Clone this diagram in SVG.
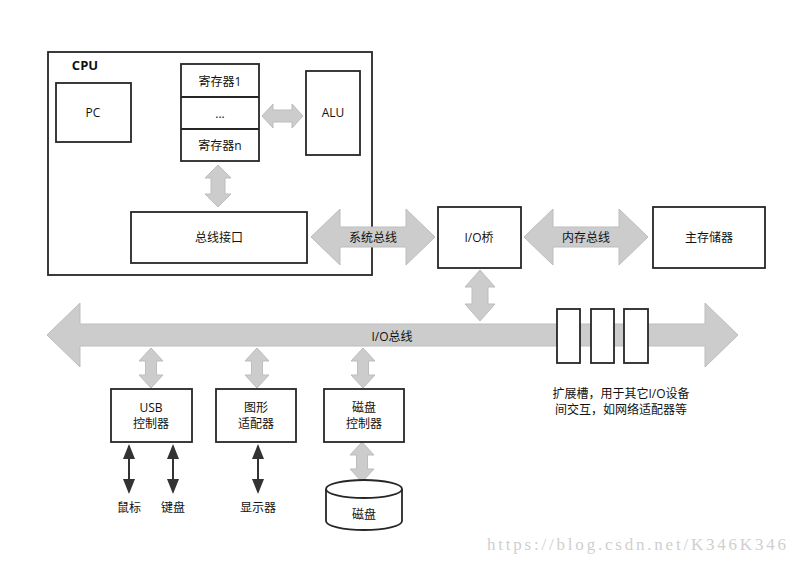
<svg xmlns="http://www.w3.org/2000/svg" width="797" height="565" viewBox="0 0 797 565">
<defs>
<style>
.box{fill:#fff;stroke:#262626;stroke-width:1.8}
.bus{fill:#cccccc;stroke:#bdbdbd;stroke-width:1}
.t{font-family:"Open Sans","Noto Sans CJK SC",sans-serif;font-size:12px;fill:#111;text-anchor:middle;dominant-baseline:central}
.blk{stroke:#333;stroke-width:2;fill:none}
</style>
<marker id="ah" markerUnits="userSpaceOnUse" markerWidth="15" markerHeight="12" viewBox="0 0 15 12" refX="13" refY="6" orient="auto-start-reverse">
<path d="M0,0 L15,6 L0,12 Z" fill="#333"/>
</marker>
</defs>
<rect width="797" height="565" fill="#fff"/>

<g id="cpu">
<rect class="box" x="48" y="52" width="324" height="223"/>
<text x="85" y="65" class="t" style="font-weight:bold;font-size:13px">CPU</text>
</g>
<g id="pc">
<rect class="box" x="56" y="83" width="75" height="59"/>
<text x="93" y="112" class="t">PC</text>
</g>
<g id="registers">
<rect class="box" x="181" y="64" width="78" height="97"/>
<line class="box" x1="181" y1="97" x2="259" y2="97"/>
<line class="box" x1="181" y1="129" x2="259" y2="129"/>
<text x="220" y="81" class="t">寄存器1</text>
<text x="220" y="113" class="t">...</text>
<text x="220" y="145" class="t">寄存器n</text>
</g>
<g id="alu">
<rect class="box" x="306" y="71" width="54" height="84"/>
<text x="333" y="112" class="t">ALU</text>
</g>
<g id="bus-interface">
<rect class="box" x="131" y="212" width="176" height="51"/>
<text x="219" y="237" class="t">总线接口</text>
</g>
<g id="io-bridge">
<rect class="box" x="438" y="207" width="83" height="61"/>
<text x="479" y="237" class="t">I/O桥</text>
</g>
<g id="main-memory">
<rect class="box" x="653" y="207" width="112" height="61"/>
<text x="709" y="237" class="t">主存储器</text>
</g>

<g id="connectors">
<path class="bus" d="M262,116 L273,104 L273,110 L292,110 L292,104 L303,116 L292,128 L292,122 L273,122 L273,128 Z"/>
<path class="bus" d="M218,165 L231,178 L225,178 L225,194 L231,194 L218,207 L205,194 L211,194 L211,178 L205,178 Z"/>
<path class="bus" d="M311,237 L340,209 L340,227 L406,227 L406,209 L435,237 L406,265 L406,247 L340,247 L340,265 Z"/>
<text x="373" y="237" class="t">系统总线</text>
<path class="bus" d="M524,237 L553,209 L553,227 L619,227 L619,209 L648,237 L619,265 L619,247 L553,247 L553,265 Z"/>
<text x="586" y="237" class="t">内存总线</text>
<path class="bus" d="M480,270 L495,287 L488,287 L488,304 L495,304 L480,321 L465,304 L472,304 L472,287 L465,287 Z"/>
<path class="bus" d="M47,335 L80,303 L80,324 L705,324 L705,303 L738,335 L705,367 L705,346 L80,346 L80,367 Z"/>
<text x="392" y="336" class="t">I/O总线</text>
<path class="bus" d="M151,348 L163,361 L156.5,361 L156.5,375 L163,375 L151,388 L139,375 L145.5,375 L145.5,361 L139,361 Z"/>
<path class="bus" d="M257,348 L269,361 L262.5,361 L262.5,375 L269,375 L257,388 L245,375 L251.5,375 L251.5,361 L245,361 Z"/>
<path class="bus" d="M363,348 L375,361 L368.5,361 L368.5,375 L375,375 L363,388 L351,375 L357.5,375 L357.5,361 L351,361 Z"/>
<path class="bus" d="M362,442 L374,455 L367.5,455 L367.5,469 L374,469 L362,482 L350,469 L356.5,469 L356.5,455 L350,455 Z"/>
<line class="blk" x1="129" y1="446" x2="129" y2="492" marker-start="url(#ah)" marker-end="url(#ah)"/>
<line class="blk" x1="173" y1="446" x2="173" y2="492" marker-start="url(#ah)" marker-end="url(#ah)"/>
<line class="blk" x1="258" y1="446" x2="258" y2="492" marker-start="url(#ah)" marker-end="url(#ah)"/>
</g>

<g id="slots">
<rect class="box" x="557" y="309" width="23" height="54"/>
<rect class="box" x="591" y="309" width="23" height="54"/>
<rect class="box" x="624" y="309" width="24" height="54"/>
</g>
<g id="slots-note">
<text x="621" y="393" class="t">扩展槽，用于其它I/O设备</text>
<text x="621" y="409" class="t">间交互，如网络适配器等</text>
</g>

<g id="usb">
<rect class="box" x="111" y="389" width="81" height="53"/>
<text x="151" y="407" class="t">USB</text>
<text x="151" y="423" class="t">控制器</text>
</g>
<g id="graphics">
<rect class="box" x="216" y="389" width="80" height="53"/>
<text x="256" y="407" class="t">图形</text>
<text x="256" y="423" class="t">适配器</text>
</g>
<g id="disk-controller">
<rect class="box" x="324" y="389" width="80" height="53"/>
<text x="364" y="407" class="t">磁盘</text>
<text x="364" y="423" class="t">控制器</text>
</g>
<g id="disk">
<path d="M326,489 L326,521 A38,9 0 0,0 402,521 L402,489" fill="#fff" stroke="#262626" stroke-width="1.8"/>
<ellipse cx="364" cy="489" rx="38" ry="9" fill="#fff" stroke="#262626" stroke-width="1.8"/>
<text x="364" y="514" class="t">磁盘</text>
</g>
<g id="devices">
<text x="129" y="507" class="t">鼠标</text>
<text x="173" y="507" class="t">键盘</text>
<text x="258" y="507" class="t">显示器</text>
</g>
<text x="487" y="550" textLength="299" lengthAdjust="spacing" style="font-family:'Liberation Serif',serif;font-size:17px;fill:#cfcfcf">https://blog.csdn.net/K346K346</text>
</svg>
